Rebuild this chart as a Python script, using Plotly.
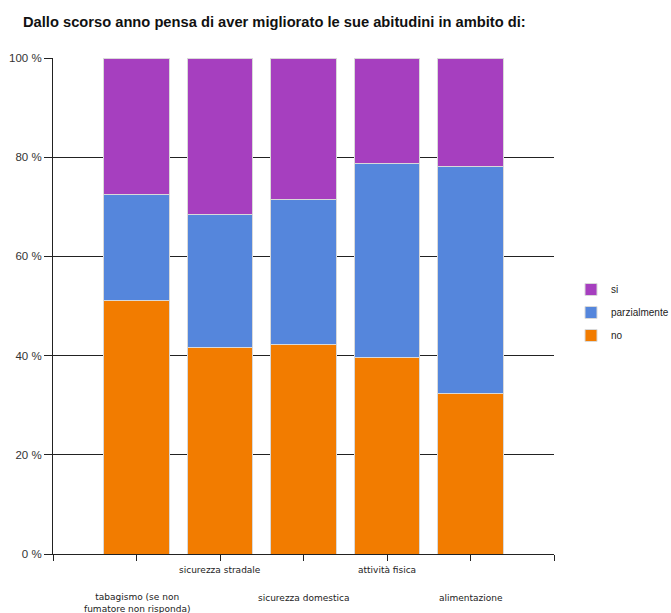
import plotly.graph_objects as go

categories = ["tabagismo (se non<br>fumatore non risponda)", "sicurezza stradale",
              "sicurezza domestica", "attività fisica", "alimentazione"]
no_vals = [51.2, 41.6, 42.2, 39.7, 32.3]
parz_vals = [21.2, 26.9, 29.2, 39.1, 45.9]
si_vals = [27.6, 31.5, 28.6, 21.2, 21.8]
y_ticks = [0, 20, 40, 60, 80, 100]
y_tick_labels = ["0 %", "20 %", "40 %", "60 %", "80 %", "100 %"]

xpos = list(range(len(categories)))
tick_vals = [-1] + xpos + [len(categories)]

W, H = 671, 613
PLOT_TOP, PLOT_BOTTOM = 58, 554
PH = PLOT_BOTTOM - PLOT_TOP
PLOT_LEFT, PLOT_RIGHT = 53, 554
PW = PLOT_RIGHT - PLOT_LEFT

border = dict(color="#d9d9d9", width=1)
fig = go.Figure()
fig.add_trace(go.Bar(x=xpos, y=no_vals, name="no", marker=dict(color="#f27c00", line=border),
                     width=0.79, legendgroup="no", legendrank=3))
fig.add_trace(go.Bar(x=xpos, y=parz_vals, name="parzialmente", marker=dict(color="#5586dc", line=border),
                     width=0.79, legendgroup="parz", legendrank=2))
fig.add_trace(go.Bar(x=xpos, y=si_vals, name="si", marker=dict(color="#a63fbf", line=border),
                     width=0.79, legendgroup="si", legendrank=1))

# category labels in two alternating rows below the axis
for i, c in enumerate(categories):
    if i % 2 == 1:
        ypix = 570
    else:
        ypix = 602.5 if "<br>" in c else 598
    fig.add_annotation(x=i, xref="x", y=(PLOT_BOTTOM - ypix) / PH, yref="paper",
                       text=c, showarrow=False, xanchor="center", yanchor="middle",
                       font=dict(family="DejaVu Sans", size=9, color="#222"))

fig.update_layout(
    width=W, height=H,
    barmode="stack",
    paper_bgcolor="white", plot_bgcolor="white",
    margin=dict(l=PLOT_LEFT, r=W - PLOT_RIGHT, t=PLOT_TOP, b=H - PLOT_BOTTOM, autoexpand=False),
    font=dict(family="Liberation Sans, Arial, sans-serif", color="#222"),
    title=dict(text="<b>Dallo scorso anno pensa di aver migliorato le sue abitudini in ambito di:</b>",
               x=23/W, xanchor="left", y=1-22/H, yanchor="middle",
               font=dict(family="Liberation Sans, Arial", size=14.7, color="#111")),
    showlegend=True,
    legend=dict(traceorder="grouped", xref="container", x=571 / W, xanchor="left",
                yref="container", y=1 - 275 / H, yanchor="top",
                font=dict(size=10, color="#222"), tracegroupgap=4,
                bgcolor="rgba(0,0,0,0)"),
    bargap=0.21,
)
fig.update_xaxes(range=[-1, len(categories)], tickvals=tick_vals, ticktext=[""] * len(tick_vals),
                 showline=True, linecolor="#222", linewidth=1, ticks="outside", ticklen=6,
                 tickcolor="#222", showgrid=False, zeroline=False, automargin=False)
fig.update_yaxes(range=[0, 100], tickvals=y_ticks, ticktext=y_tick_labels,
                 showline=True, linecolor="#222", linewidth=1, ticks="outside", ticklen=8,
                 tickcolor="#222", showgrid=True, gridcolor="#222", gridwidth=1, zeroline=False,
                 automargin=False,
                 tickfont=dict(family="Liberation Sans, Arial", size=11.5, color="#333"))

fig.write_html("out.html")
